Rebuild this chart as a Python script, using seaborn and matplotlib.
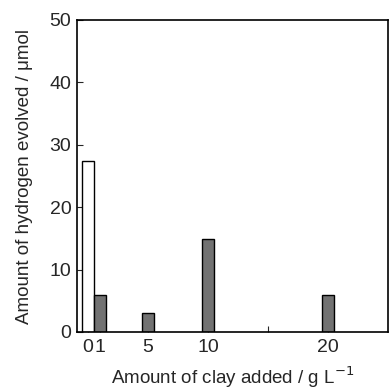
import pandas as pd
import numpy as np
import seaborn as sns
from matplotlib import pyplot as plt

# values
clay = [0, 1, 5, 10, 20]
hydrogen = [27.4, 5.9, 3.0, 14.9, 6.0]
group = ['blank', 'clay', 'clay', 'clay', 'clay']
xticks = [0, 1, 5, 10, 15, 20]
xticklabels = ['0', '1', '5', '10', '', '20']
yticks = [0, 10, 20, 30, 40, 50]

df = pd.DataFrame({'clay': clay, 'hydrogen': hydrogen, 'group': group})

sns.set_style('ticks')
plt.rcParams['font.family'] = ['Liberation Sans', 'DejaVu Sans']

fig = plt.figure(figsize=(3.89, 3.90), dpi=100)
ax = fig.add_axes([77 / 389, 58 / 390, 311 / 389, 312 / 390])

sns.barplot(data=df, x='clay', y='hydrogen', hue='group',
            palette={'blank': 'white', 'clay': '#727272'},
            native_scale=True, dodge=False, width=0.95,
            edgecolor='black', linewidth=1.0, legend=False, ax=ax)

ax.set_xlim(-0.9, 25)
ax.set_ylim(0, 50)
ax.set_xticks(xticks)
ax.set_xticklabels(xticklabels)
ax.set_yticks(yticks)
ax.tick_params(axis='both', direction='in', labelsize=14, length=4, width=0.8)
ax.tick_params(axis='x', pad=5)
ax.tick_params(axis='y', pad=4)
for s in ax.spines.values():
    s.set_linewidth(1.2)
    s.set_color('black')

ax.set_xlabel('Amount of clay added / g L$^{-1}$', fontsize=13.5, labelpad=6)
ax.set_ylabel('Amount of hydrogen evolved / \u03bcmol', fontsize=13.5, labelpad=12)

fig.savefig('out.png', dpi=100)
